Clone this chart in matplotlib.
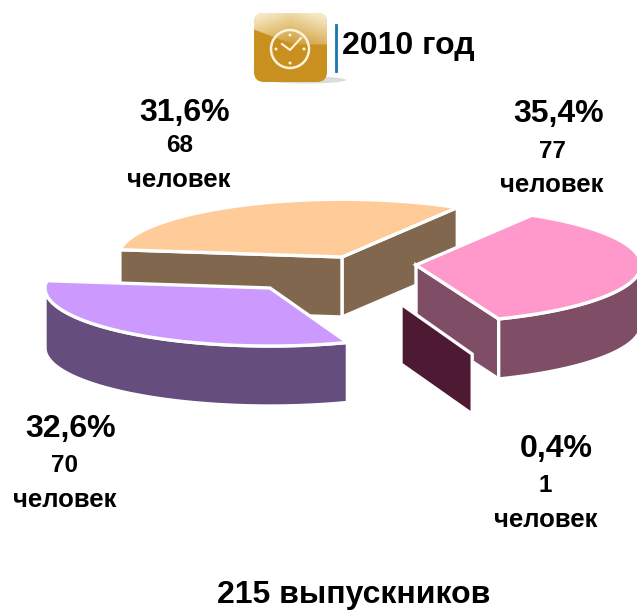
from matplotlib import pyplot as plt
from matplotlib.patches import Polygon, FancyBboxPatch, Circle, Ellipse
import numpy

# slices in drawing order round the pie, starting from the orange one
shares = [31.6, 32.6, 0.4, 35.4]
counts = [68, 70, 1, 77]
percent_labels = ['31,6%', '32,6%', '0,4%', '35,4%']
top_colors = ['#ffcc99', '#cc99ff', '#993366', '#ff99cc']
side_colors = ['#80674d', '#654d7d', '#4d1933', '#804d66']
title = '2010 год'
total_label = '215 выпускников'
unit = 'человек'

start_angle = 59.0
radius_x = 225.0
radius_y = 58.0
depth = 60.0
# exploded position of each slice apex, in pixels
centers = [(342, 257), (270, 288), (401, 304), (416, 265)]
radius_scale = [0.995, 1.0, 0.92, 1.0]
draw_order = [0, 3, 1, 2]
# which cut faces look towards the viewer
show_start = [True, False, True, True]
show_end = [True, False, False, False]
show_top = [True, True, False, True]

percent_pos = [(185, 113), (71, 429), (556, 449), (559, 114)]
count_pos = [(180, 146), (65, 466), (545, 486), (553, 152)]
unit_pos = [(179, 180), (65, 500), (546, 520), (552, 185)]

plt.rcParams['font.family'] = ['Liberation Sans']
fig = plt.figure(figsize=(6.37, 6.10), dpi=100)
ax = fig.add_axes([0, 0, 1, 1])
ax.axis('off')

edges = numpy.cumsum([0] + shares) / sum(shares) * 360 + start_angle


def rim(i, a0, a1):
    t = numpy.radians(numpy.linspace(a0, a1, 80))
    cx, cy = centers[i]
    s = radius_scale[i]
    return numpy.column_stack([cx + s * radius_x * numpy.cos(t),
                               cy - s * radius_y * numpy.sin(t)])


def face(points, color, z):
    ax.add_patch(Polygon(points, closed=True, facecolor=color, edgecolor='white',
                         linewidth=2.4, joinstyle='miter', zorder=z))


def extrude(points):
    return numpy.vstack([points, (points + [0, depth])[::-1]])


for n, i in enumerate(draw_order):
    z = 2 + n * 5
    a0, a1 = edges[i], edges[i + 1]
    apex = numpy.array(centers[i], dtype=float)
    arc = rim(i, a0, a1)
    if show_start[i]:
        face(extrude(numpy.array([arc[0], apex])), side_colors[i], z)
    if show_end[i]:
        face(extrude(numpy.array([apex, arc[-1]])), side_colors[i], z + 0.1)
    # outer wall, only the part turned towards the viewer
    lo = max(a0, 180)
    hi = min(a1, 360)
    if hi > lo and i != 2:
        face(extrude(rim(i, lo, hi)), side_colors[i], z + 0.2)
    if show_top[i]:
        face(numpy.vstack([apex, arc]), top_colors[i], z + 0.3)

for i in range(4):
    ax.text(*percent_pos[i], percent_labels[i], fontsize=23, fontweight='bold', ha='center', va='center', zorder=40)
    ax.text(*count_pos[i], str(counts[i]), fontsize=17.5, fontweight='bold', ha='center', va='center', zorder=40)
    ax.text(*unit_pos[i], unit, fontsize=18.5, fontweight='bold', ha='center', va='center', zorder=40)

ax.text(408.5, 46, title, fontsize=23, fontweight='bold', ha='center', va='center', zorder=40)
ax.text(354, 595, total_label, fontsize=23, fontweight='bold', ha='center', va='center', zorder=40)
ax.plot([336, 336], [25, 71], color='#1a75b0', linewidth=2, zorder=40)

# clock icon
ax.add_patch(Ellipse((306, 80), 80, 7, facecolor='#dcdcdc', edgecolor='none', zorder=30))
box = FancyBboxPatch((260, 19), 61, 57, boxstyle='round,pad=6,rounding_size=10',
                     facecolor='#c9901f', edgecolor='none', zorder=31)
ax.add_patch(box)
yy, xx = numpy.mgrid[0:1:60j, 0:1:60j]
grad = numpy.zeros((60, 60, 4))
grad[..., :3] = [0.99, 0.95, 0.84]
grad[..., 3] = numpy.clip(0.75 + 0.25 * numpy.abs(2 * xx - 1) - 0.75 * yy, 0, 1)
grad[..., 3][yy > numpy.minimum(0.45 + 0.75 * xx, 0.85)] = 0
im = ax.imshow(grad, extent=(254, 327, 50, 13), aspect='auto', zorder=32, interpolation='bilinear')
im.set_clip_path(box)
ax.set_xlim(0, 637)
ax.set_ylim(610, 0)
ax.add_patch(Circle((290, 49), 19, facecolor='none', edgecolor='#fdf3dc', linewidth=1.8, zorder=33))
ax.plot([282, 290, 301], [44, 50, 38], color='#fdf3dc', linewidth=1.5, zorder=33)
for dx, dy in [(0, -14), (0, 14), (-14, 0), (14, 0)]:
    ax.add_patch(Circle((290 + dx, 49 + dy), 1.5, facecolor='#fdf3dc', edgecolor='none', zorder=33))

fig.savefig('out.png', dpi=100, facecolor='white')
